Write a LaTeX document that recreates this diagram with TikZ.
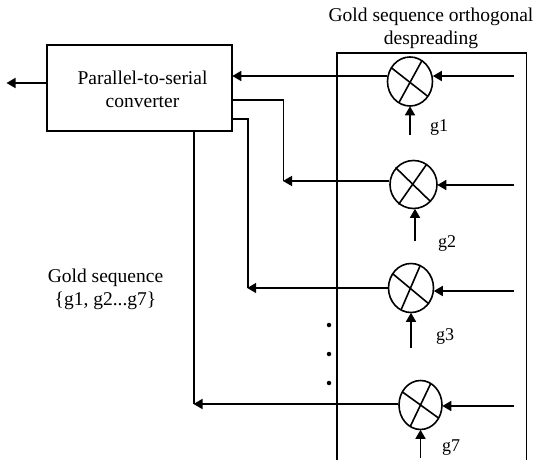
\documentclass[tikz,border=0pt]{standalone}
\usepackage{fontspec}
\setmainfont{Liberation Serif}
\usetikzlibrary{shapes.geometric,arrows.meta}
\tikzset{
  mixer/.style={draw,ellipse,line width=1.6pt,inner sep=0pt,minimum width=45pt,minimum height=49pt},
  wire/.style={line width=1.6pt},
  arr/.style={line width=1.6pt,-{Triangle[length=9pt,width=10pt]},shorten >=-0.5pt},
  lab/.style={font=\fontsize{19.5}{23}\selectfont,inner sep=0pt},
  glab/.style={font=\fontsize{18}{21}\selectfont,inner sep=0pt},
  dotm/.style={circle,fill=black,inner sep=0pt,minimum size=4.5pt}
}
\begin{document}
\begin{tikzpicture}[x=1pt,y=-1pt]
\useasboundingbox (0,0) rectangle (536,460);
% despreading frame
\coordinate (fa) at (337,460);
\coordinate (fb) at (337,53);
\coordinate (fc) at (526.5,53);
\coordinate (fd) at (526.5,460);
\draw[wire] (fa) -- (fb) -- (fc) -- (fd);
\node[lab,align=center] (title) at (431,28) {Gold sequence orthogonal\\despreading};
% converter
\node[draw,line width=1.6pt,minimum width=185pt,minimum height=86pt,inner sep=0pt] (conv) at (139.5,88) {};
\node[lab,align=center] (convtext) at (142.5,89) {Parallel-to-serial\\converter};
\coordinate (out) at (7,83);
\draw[arr] (conv.west |- out) -- (out);
% mixers
\node[mixer] (m1) at (410,81.5) {};
\node[mixer,minimum width=47pt,minimum height=48pt] (m2) at (413.5,184.5) {};
\node[mixer] (m3) at (411,288) {};
\node[mixer,minimum width=43pt] (m7) at (420.5,405) {};
% crosses
\foreach \m/\ax/\ay/\bx/\by/\cx/\cy/\dx/\dy in {
 m1/-19/-14/18/15/12/-21/-11/21,
 m2/-18/-17/17/17/13/-20/-15/20,
 m3/-18/-14/18/16/9/-22/-10/22,
 m7/-18/-13/18/13/10/-21/-10/21}{
  \draw[wire] ([shift={(\ax,\ay)}]\m.center) -- ([shift={(\bx,\by)}]\m.center);
  \draw[wire] ([shift={(\cx,\cy)}]\m.center) -- ([shift={(\dx,\dy)}]\m.center);
}
% right inputs
\coordinate (i1) at (514,76);
\coordinate (i2) at (514,185);
\coordinate (i3) at (514,291);
\coordinate (i7) at (514,406);
\draw[arr] (i1) -- (i1 -| m1.east);
\draw[arr] (i2) -- (i2 -| m2.east);
\draw[arr] (i3) -- (i3 -| m3.east);
\draw[arr] (i7) -- (i7 -| m7.east);
% code inputs
\coordinate (c1) at (410,135);
\coordinate (c2) at (415,241);
\coordinate (c3) at (411,348);
\coordinate (c7) at (420.5,458);
\draw[arr] (c1) -- (c1 |- m1.south);
\draw[arr] (c2) -- (c2 |- m2.south);
\draw[arr] (c3) -- (c3 |- m3.south);
\draw[arr] (c7) -- (c7 |- m7.south);
\node[glab] (g1) at (439,128) {g1};
\node[glab] (g2) at (447,243) {g2};
\node[glab] (g3) at (445,336) {g3};
\node[glab] (g7) at (451,448) {g7};
% outputs
\coordinate (o1) at (conv.east |- 0,76);
\coordinate (t2) at (283.5,181);
\coordinate (t3) at (247.7,288);
\coordinate (t7) at (194,404);
\draw[arr] (m1.west |- o1) -- (o1);
\draw[arr] (m2.west |- t2) -- (t2);
\draw[arr] (m3.west) -- (t3);
\draw[arr] (m7.west |- t7) -- (t7);
% returns to converter
\coordinate (s2) at (conv.east |- 0,100);
\coordinate (s3) at (conv.east |- 0,119);
\draw[wire] (s2) -| (t2);
\draw[wire] (s3) -| (t3);
\draw[wire] (conv.south -| t7) -- (t7);
% dots
\node[dotm] (d1) at (329,325) {};
\node[dotm] (d2) at (329,354) {};
\node[dotm] (d3) at (329,383) {};
% label
\node[lab,align=center] (gs) at (105.5,289) {Gold sequence\\\{g1, g2...g7\}};
\end{tikzpicture}
\end{document}
